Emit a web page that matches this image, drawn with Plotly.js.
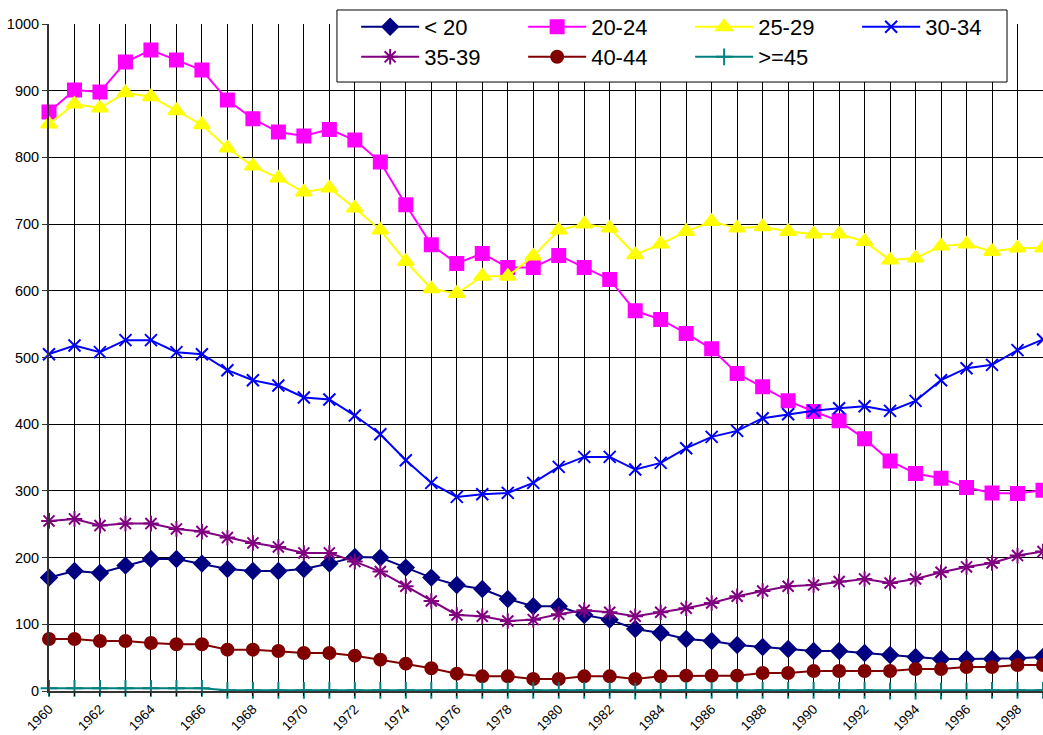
<!DOCTYPE html>
<html><head><meta charset="utf-8">
<script src="https://cdn.plot.ly/plotly-3.0.1.min.js"></script>
<style>html,body{margin:0;padding:0;background:#fff}#chart{width:1043px;height:735px}</style>
</head><body><div id="chart"></div>
<script>
const years = [1960,1961,1962,1963,1964,1965,1966,1967,1968,1969,1970,1971,1972,1973,1974,1975,1976,1977,1978,1979,1980,1981,1982,1983,1984,1985,1986,1987,1988,1989,1990,1991,1992,1993,1994,1995,1996,1997,1998,1999];
const under20 = [170,180,177,188,198,198,191,183,180,180,183,191,201,200,185,170,159,153,138,127,127,114,107,93,87,78,75,69,66,63,60,60,57,54,51,48,48,48,49,51];
const age20_24 = [868,901,898,943,961,946,931,886,858,838,832,842,826,793,729,669,641,656,635,635,653,635,617,570,557,536,513,476,456,435,419,405,378,345,326,319,305,297,296,301];
const age25_29 = [850,880,874,897,891,870,849,814,787,769,748,754,724,691,644,603,596,622,622,652,691,700,694,654,670,689,704,694,696,689,685,685,674,646,649,667,670,659,664,664];
const age30_34 = [505,518,508,526,526,508,505,481,466,458,440,437,413,385,346,312,291,295,297,312,336,351,351,332,342,364,381,390,409,415,420,424,427,420,435,466,484,489,511,527];
const age35_39 = [255,258,248,251,251,243,239,230,222,216,207,207,194,179,157,135,114,112,105,107,115,121,118,112,118,124,132,142,150,157,159,164,168,162,168,178,186,192,203,209];
const age40_44 = [78,78,75,75,72,70,70,62,62,60,57,57,53,47,41,34,26,22,22,18,18,22,22,18,22,23,23,23,27,27,30,30,30,30,33,33,36,36,39,39];
const age45plus = [4,4,4,4,4,4,4,1,1,1,1,1,1,1,1,1,1,1,1,1,1,1,1,0,1,1,1,1,1,1,1,1,1,0,0,0,0,1,1,1];
const seriesNames = ['< 20','20-24','25-29','30-34','35-39','40-44','>=45'];
const xTickLabels = years.map(y => (y % 2 === 0 ? String(y) : ''));
const yTicks = [0,100,200,300,400,500,600,700,800,900,1000];

const styles = [
  {color:'#000080', symbol:'diamond', size:12, leg:'legend'},
  {color:'#FF00FF', symbol:'square', size:13, leg:'legend'},
  {color:'#FFFF00', symbol:'triangle-up', size:14, leg:'legend'},
  {color:'#0000FF', symbol:'x-thin-open', size:12, leg:'legend'},
  {color:'#800080', symbol:'asterisk-open', size:13, leg:'legend2'},
  {color:'#800000', symbol:'circle', size:12, leg:'legend2'},
  {color:'#008080', symbol:'cross-thin-open', size:12, leg:'legend2'}
];
const dataSets = [under20, age20_24, age25_29, age30_34, age35_39, age40_44, age45plus];

const traces = dataSets.map((vals, i) => ({
  type:'scatter', mode:'lines+markers', x: years, y: vals, name: seriesNames[i],
  legend: styles[i].leg, cliponaxis:false,
  line:{color:styles[i].color, width:2},
  marker:{color:styles[i].color, symbol:styles[i].symbol, size:styles[i].size,
          line:{color:styles[i].color, width:2}}
}));

const fontFam = 'Liberation Sans, Arial, sans-serif';
const legCommon = {orientation:'h', xanchor:'left', yanchor:'middle', bgcolor:'rgba(0,0,0,0)',
  borderwidth:0, font:{family:fontFam, size:22, color:'#000'}, itemwidth:58,
  entrywidth:94, entrywidthmode:'pixels', itemclick:false};

const layout = {
  width:1043, height:735,
  margin:{l:49, r:0, t:24, b:44},
  paper_bgcolor:'#fff', plot_bgcolor:'#fff',
  showlegend:true,
  legend: Object.assign({}, legCommon, {x:0.309, y:0.9955}),
  legend2: Object.assign({}, legCommon, {x:0.309, y:0.9505}),
  xaxis:{range:[1960,1999], tickvals:years, ticktext:xTickLabels, tickangle:-45,
    showgrid:true, gridcolor:'#000', gridwidth:1, ticks:'outside', ticklen:3, tickcolor:'#000',
    showline:true, linecolor:'#333', linewidth:2, zeroline:false,
    tickfont:{family:fontFam, size:13.5, color:'#000'}},
  yaxis:{range:[0,1000], tickvals:yTicks, showgrid:true, gridcolor:'#000', gridwidth:1,
    showline:true, linecolor:'#333', linewidth:2, zeroline:false, ticks:'outside', ticklen:5, tickcolor:'#333',
    tickfont:{family:fontFam, size:14.5, color:'#000'}},
  shapes:[{type:'rect', xref:'paper', yref:'paper', x0:0.2897, x1:0.9638, y0:0.913, y1:1.021,
    line:{color:'#000', width:1}, fillcolor:'#fff', layer:'above'}]
};
Plotly.newPlot('chart', traces, layout, {staticPlot:true});
</script>
</body></html>
